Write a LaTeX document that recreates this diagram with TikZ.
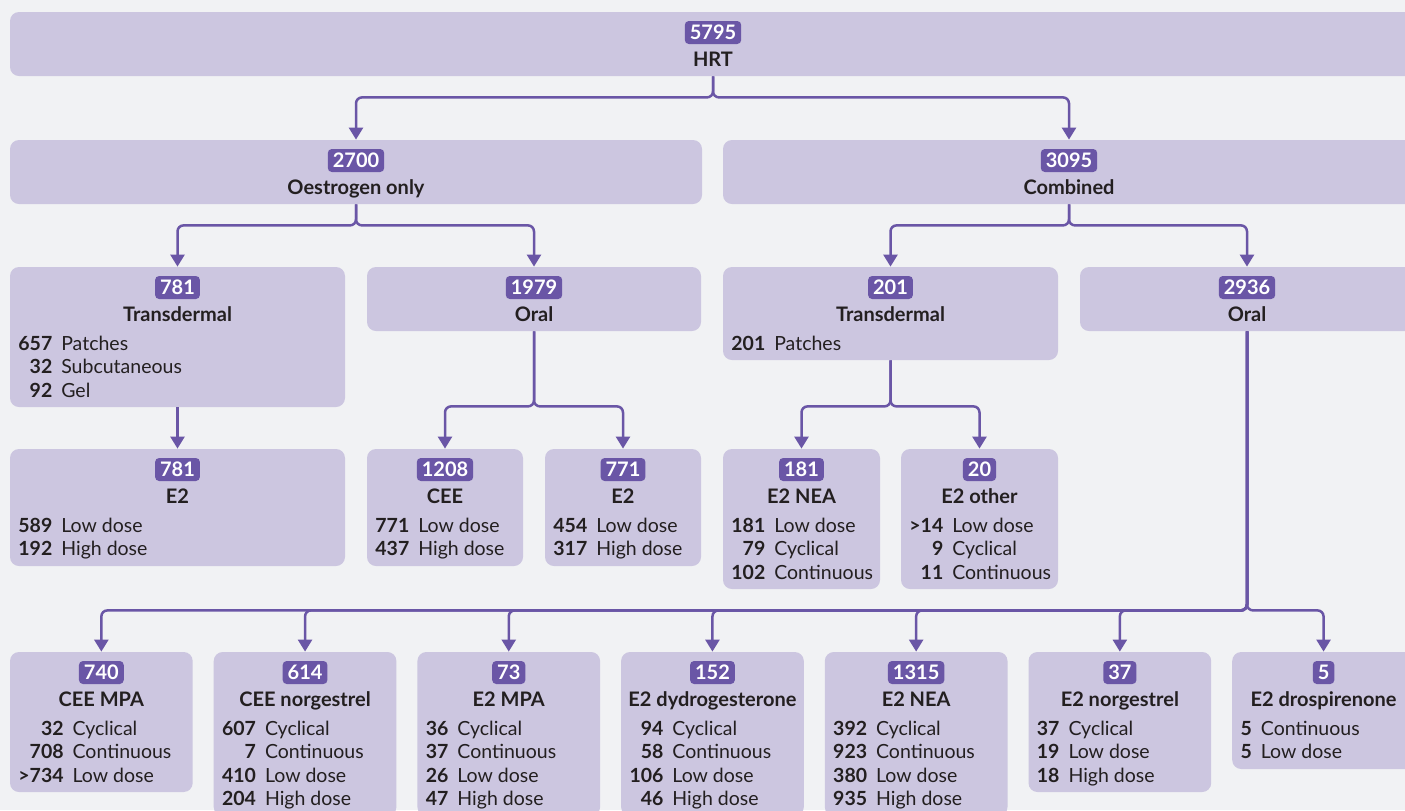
\documentclass[tikz,border=0pt]{standalone}
\usepackage{fontspec}
\setmainfont{Lato}
\usepackage{array}
\usetikzlibrary{arrows.meta,fit}
\definecolor{bgc}{HTML}{F1F2F4}
\definecolor{boxc}{HTML}{CCC6E0}
\definecolor{purp}{HTML}{6A56A6}
\definecolor{txt}{HTML}{231F20}
\tikzset{
 box/.style={fill=boxc, draw=none, rounded corners=4.5pt, inner sep=0pt},
 badge/.style={fill=purp, text=white, font=\fontsize{10}{12}\selectfont\bfseries, rounded corners=2pt, inner xsep=2.5pt, inner ysep=0pt, minimum height=11.5pt},
 ttl/.style={font=\fontsize{10}{12}\selectfont\bfseries, text=txt, inner sep=0pt, anchor=base},
 lst/.style={font=\fontsize{9.75}{11.75}\selectfont, text=txt, inner sep=0pt, anchor=base west},
 conn/.style={draw=purp, line width=1.25pt, rounded corners=3pt, -{Triangle[width=7pt,length=6pt]}},
}
\newcommand\cbox[7]{%
 \node[box, fit={(#2,#3) (#4,#5)}] (#1) {};
 \node[badge] (#1-n) at ({(#2+#4)/2},{#3+20.5}) {#6};
 \node[ttl] (#1-t) at ({(#2+#4)/2},{#3+54}) {#7};
}
\newcommand\clist[4]{%
 \node[lst] (#1-l) at ({#2+8},{#3+83}) {\begin{tabular}[t]{@{}>{\bfseries}r@{\hspace{4.5pt}}l@{}}#4\end{tabular}};
}
\begin{document}
\begin{tikzpicture}[x=0.5pt,y=-0.5pt]
\useasboundingbox (0,0) rectangle (1405,810);
\fill[bgc] (0,0) rectangle (1405,810);
\clip (0,0) rectangle (1405,810);
% level 0
\cbox{hrt}{10}{12}{1416}{76}{5795}{HRT}
% level 1
\cbox{oe}{10}{140}{702}{204}{2700}{Oestrogen only}
\cbox{co}{723}{140}{1415}{204}{3095}{Combined}
% level 2
\cbox{tda}{10}{267}{345}{407}{781}{Transdermal}
\clist{tda}{10}{267}{657 & Patches\\ 32 & Subcutaneous\\ 92 & Gel}
\cbox{ora}{367}{267}{701}{331}{1979}{Oral}
\cbox{tdb}{723}{267}{1058}{360}{201}{Transdermal}
\clist{tdb}{723}{267}{201 & Patches}
\cbox{orb}{1080}{267}{1414}{331}{2936}{Oral}
% level 3
\cbox{eza}{10}{449}{345}{566}{781}{E2}
\clist{eza}{10}{449}{589 & Low dose\\ 192 & High dose}
\cbox{cee}{367}{449}{523}{566}{1208}{CEE}
\clist{cee}{367}{449}{771 & Low dose\\ 437 & High dose}
\cbox{ezb}{545}{449}{701}{566}{771}{E2}
\clist{ezb}{545}{449}{454 & Low dose\\ 317 & High dose}
\cbox{nea}{723}{449}{880}{589}{181}{E2 NEA}
\clist{nea}{723}{449}{181 & Low dose\\ 79 & Cyclical\\ 102 & Continuous}
\cbox{oth}{901}{449}{1058}{589}{20}{E2 other}
\clist{oth}{901}{449}{>14 & Low dose\\ 9 & Cyclical\\ 11 & Continuous}
% level 4
\cbox{ba}{10}{652}{192.7}{792}{740}{CEE MPA}
\clist{ba}{10}{652}{32 & Cyclical\\ 708 & Continuous\\ >734 & Low dose}
\cbox{bb}{213.7}{652}{396.4}{816}{614}{CEE norgestrel}
\clist{bb}{213.7}{652}{607 & Cyclical\\ 7 & Continuous\\ 410 & Low dose\\ 204 & High dose}
\cbox{bc}{417.4}{652}{600.1}{816}{73}{E2 MPA}
\clist{bc}{417.4}{652}{36 & Cyclical\\ 37 & Continuous\\ 26 & Low dose\\ 47 & High dose}
\cbox{bd}{621.1}{652}{803.8}{816}{152}{E2 dydrogesterone}
\clist{bd}{621.1}{652}{94 & Cyclical\\ 58 & Continuous\\ 106 & Low dose\\ 46 & High dose}
\cbox{be}{824.8}{652}{1007.5}{816}{1315}{E2 NEA}
\clist{be}{824.8}{652}{392 & Cyclical\\ 923 & Continuous\\ 380 & Low dose\\ 935 & High dose}
\cbox{bf}{1028.5}{652}{1211.2}{792}{37}{E2 norgestrel}
\clist{bf}{1028.5}{652}{37 & Cyclical\\ 19 & Low dose\\ 18 & High dose}
\cbox{bg}{1232.2}{652}{1414.9}{769}{5}{E2 drospirenone}
\clist{bg}{1232.2}{652}{5 & Continuous\\ 5 & Low dose}
% connectors
\draw[conn] (hrt.south) -- ++(0,21) -| (oe.north);
\draw[conn] (hrt.south) -- ++(0,21) -| (co.north);
\draw[conn] (oe.south) -- ++(0,21) -| (tda.north);
\draw[conn] (oe.south) -- ++(0,21) -| (ora.north);
\draw[conn] (co.south) -- ++(0,21) -| (tdb.north);
\draw[conn] (co.south) -- ++(0,21) -| (orb.north);
\draw[conn] (tda.south) -- (eza.north);
\draw[conn] (ora.south) -- ++(0,75) -| (cee.north);
\draw[conn] (ora.south) -- ++(0,75) -| (ezb.north);
\draw[conn] (tdb.south) -- ++(0,46) -| (nea.north);
\draw[conn] (tdb.south) -- ++(0,46) -| (oth.north);
\foreach \b in {ba,bb,bc,bd,be,bf,bg}
  \draw[conn] (orb.south) -- ++(0,279) -| (\b.north);
\end{tikzpicture}
\end{document}
